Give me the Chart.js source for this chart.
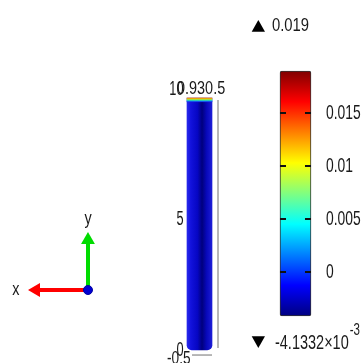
<!DOCTYPE html>
<html><head><meta charset="utf-8">
<script src="https://cdn.jsdelivr.net/npm/chart.js@4"></script>
<style>html,body{margin:0;padding:0;background:#fff;}canvas{display:block;}</style>
</head><body>
<canvas id="c" width="364" height="363"></canvas>
<script>
// ---- data ----
const columnPositions = [0];
const columnSpan = [0, 10];
const columnTopBand = [9.85, 10];
const colorRange = [-4.1332e-3, 0.019];
const colorTicks = [0, 0.005, 0.01, 0.015];
const colorTickLabels = ['0', '0.005', '0.01', '0.015'];
const maxLabel = '0.019';
const minLabelMantissa = '-4.1332×10';
const minLabelExponent = '-3';
const heightTicks = [0, 5, 10];
const heightTickLabels = ['0', '5', '10'];
const widthLabelsTop = '0.930.5';
const widthLabelsBottom = '-0.5';
const boxEdgeRightX = [0.74, 0.74];
const boxEdgeRightY = [9.92, 0.08];
const boxEdgeBottomX = [-0.3, 0.5];
const boxEdgeBottomY = [-0.2, -0.2];
const triadOrigin = [0, 0];
const triadXTip = [-1, 0];
const triadYTip = [0, 1];
const triadLabels = ['x', 'y'];

const jet = [[0,'rgb(0,0,128)'],[0.125,'rgb(0,0,255)'],[0.375,'rgb(0,255,255)'],[0.5,'rgb(128,255,128)'],[0.625,'rgb(255,255,0)'],[0.875,'rgb(255,0,0)'],[1,'rgb(128,0,0)']];

function columnFill(c){
  const ch = c.chart, s = ch.scales.x;
  if (!s || s.left === undefined) return 'rgb(10,10,200)';
  const a = s.getPixelForValue(-0.5), b = s.getPixelForValue(0.5);
  const g = ch.ctx.createLinearGradient(a, 0, b, 0);
  g.addColorStop(0, 'rgb(40,40,235)');
  g.addColorStop(0.15, 'rgb(18,18,220)');
  g.addColorStop(0.42, 'rgb(6,6,195)');
  g.addColorStop(0.6, 'rgb(0,0,125)');
  g.addColorStop(0.78, 'rgb(8,8,185)');
  g.addColorStop(1, 'rgb(28,28,215)');
  return g;
}
function bandFill(c){
  const ch = c.chart, s = ch.scales.y;
  if (!s || s.top === undefined) return 'orange';
  const g = ch.ctx.createLinearGradient(0, s.getPixelForValue(columnTopBand[1]), 0, s.getPixelForValue(columnTopBand[0]));
  g.addColorStop(0, 'rgb(255,110,0)');
  g.addColorStop(0.3, 'rgb(210,230,20)');
  g.addColorStop(0.55, 'rgb(70,220,140)');
  g.addColorStop(0.8, 'rgb(0,170,255)');
  g.addColorStop(1, 'rgb(30,30,225)');
  return g;
}
function jetFill(c){
  const ch = c.chart, s = ch.scales.yc;
  if (!s || s.top === undefined) return 'blue';
  const g = ch.ctx.createLinearGradient(0, s.getPixelForValue(colorRange[0]), 0, s.getPixelForValue(colorRange[1]));
  jet.forEach(([p, col]) => g.addColorStop(p, col));
  return g;
}

function txt(ctx, s, x, y, size, sx, align, baseline){
  ctx.save();
  ctx.font = size + 'px "Liberation Sans", Arial, sans-serif';
  ctx.fillStyle = '#1a1a1a';
  ctx.textAlign = align || 'left';
  ctx.textBaseline = baseline || 'middle';
  ctx.translate(x, y);
  ctx.scale(sx, 1);
  ctx.fillText(s, 0, 0);
  ctx.restore();
}
function tri(ctx, x, y, w, h, up){
  ctx.save();
  ctx.fillStyle = '#000';
  ctx.beginPath();
  if (up){ ctx.moveTo(x, y + h); ctx.lineTo(x + w, y + h); ctx.lineTo(x + w/2, y); }
  else { ctx.moveTo(x, y); ctx.lineTo(x + w, y); ctx.lineTo(x + w/2, y + h); }
  ctx.closePath(); ctx.fill();
  ctx.restore();
}

const labelsPlugin = {
  id: 'labels',
  afterDatasetsDraw(chart){
    const ctx = chart.ctx;
    const yc = chart.scales.yc, yl = chart.scales.yl, x = chart.scales.x;
    const tx = chart.scales.tx, ty = chart.scales.ty;
    const cb = chart.getDatasetMeta(2).data[0];
    const left = cb.x - cb.width/2, right = cb.x + cb.width/2;
    ctx.save();
    ctx.strokeStyle = '#111'; ctx.lineWidth = 2;
    colorTicks.forEach((v, i) => {
      const py = Math.round(yc.getPixelForValue(v));
      ctx.beginPath();
      ctx.moveTo(left, py); ctx.lineTo(left + 6, py);
      ctx.moveTo(right - 6, py); ctx.lineTo(right, py);
      ctx.stroke();
      txt(ctx, colorTickLabels[i], right + 15, py, 21, 0.66);
    });
    ctx.restore();
    const yTop = yc.getPixelForValue(colorRange[1]) - 45.5;
    tri(ctx, left - 28.3, yTop - 5.5, 13.3, 11.7, true);
    txt(ctx, maxLabel, left - 8, yTop, 19, 0.78);
    const yBot = yc.getPixelForValue(colorRange[0]) + 27;
    tri(ctx, left - 28.3, yBot - 6.8, 13.3, 11.7, false);
    ctx.save();
    ctx.font = '21px "Liberation Sans", Arial, sans-serif';
    const mw = ctx.measureText(minLabelMantissa).width * 0.69;
    ctx.restore();
    txt(ctx, minLabelMantissa, left - 5, yBot, 21, 0.69);
    txt(ctx, minLabelExponent, left - 5 + mw + 1, yBot - 12, 16, 0.72);
    const colLeft = x.getPixelForValue(-0.5);
    heightTicks.forEach((v, i) => {
      txt(ctx, heightTickLabels[i], colLeft - 3.5, yl.getPixelForValue(v), 20, 0.64, 'right');
    });
    txt(ctx, widthLabelsTop, colLeft - 10, yl.getPixelForValue(heightTicks[2]), 19, 0.76);
    txt(ctx, widthLabelsBottom, colLeft - 20, yl.getPixelForValue(heightTicks[0]) + 8.5, 19, 0.72);
    txt(ctx, triadLabels[0], tx.getPixelForValue(triadXTip[0] - 0.385), ty.getPixelForValue(-0.1), 18, 0.8, 'center', 'alphabetic');
    txt(ctx, triadLabels[1], tx.getPixelForValue(0), ty.getPixelForValue(1.33), 18, 0.8, 'center', 'alphabetic');
  }
};

const pts = (xs, ys) => xs.map((v, i) => ({x: v, y: ys[i]}));
const hidden = (extra) => Object.assign({type: 'linear', display: false, offset: false, grid: {display: false}}, extra);

new Chart(document.getElementById('c'), {
  type: 'bar',
  data: {
    datasets: [
      { type: 'bar', label: 'column', xAxisID: 'x', yAxisID: 'y', order: 5, grouped: false,
        data: columnPositions.map(p => ({x: p, y: columnSpan})),
        barThickness: 25, backgroundColor: columnFill, borderWidth: 0, borderSkipped: false,
        borderRadius: {topLeft: 0, topRight: 0, bottomLeft: 5, bottomRight: 5} },
      { type: 'bar', label: 'top', xAxisID: 'x', yAxisID: 'y', order: 4, grouped: false,
        data: columnPositions.map(p => ({x: p, y: columnTopBand})),
        barThickness: 25, backgroundColor: bandFill, borderWidth: 0, borderSkipped: false },
      { type: 'bar', label: 'colorbar', xAxisID: 'xc', yAxisID: 'yc', order: 4, grouped: false,
        data: [{x: 0, y: colorRange}],
        barThickness: 31, backgroundColor: jetFill, borderColor: '#333', borderWidth: 1,
        borderSkipped: false, borderRadius: 2 },
      { type: 'line', label: 'edgeR', xAxisID: 'x', yAxisID: 'y', order: 6,
        data: pts(boxEdgeRightX, boxEdgeRightY), borderColor: '#a0a0a0', borderWidth: 1.5, pointRadius: 0 },
      { type: 'line', label: 'edgeB', xAxisID: 'x', yAxisID: 'y', order: 6,
        data: pts(boxEdgeBottomX, boxEdgeBottomY), borderColor: '#a0a0a0', borderWidth: 1.5, pointRadius: 0 },
      { type: 'line', label: 'tx', xAxisID: 'tx', yAxisID: 'ty', order: 2,
        data: [{x: triadOrigin[0], y: triadOrigin[1]}, {x: triadXTip[0], y: triadXTip[1]}],
        borderColor: 'rgb(255,0,0)', backgroundColor: 'rgb(255,0,0)', borderWidth: 4,
        pointRadius: [0, 8], pointStyle: 'triangle', pointRotation: -90, pointBorderWidth: 0 },
      { type: 'line', label: 'ty', xAxisID: 'tx', yAxisID: 'ty', order: 2,
        data: [{x: triadOrigin[0], y: triadOrigin[1]}, {x: triadYTip[0], y: triadYTip[1]}],
        borderColor: 'rgb(0,220,0)', backgroundColor: 'rgb(0,220,0)', borderWidth: 4,
        pointRadius: [0, 8], pointStyle: 'triangle', pointRotation: 0, pointBorderWidth: 0 },
      { type: 'scatter', label: 'origin', xAxisID: 'tx', yAxisID: 'ty', order: 0,
        data: [{x: triadOrigin[0], y: triadOrigin[1]}],
        backgroundColor: 'rgb(0,0,210)', borderColor: 'rgb(0,0,160)', borderWidth: 1, pointRadius: 4.5 }
    ]
  },
  options: {
    responsive: false, devicePixelRatio: 1, animation: false, events: [],
    layout: {padding: 0, autoPadding: false},
    plugins: {legend: {display: false}, tooltip: {enabled: false}, title: {display: false}},
    scales: {
      x: hidden({min: -7.98, max: 6.58}),
      y: hidden({min: -0.516, max: 13.889}),
      xc: hidden({min: -9.532, max: 2.210}),
      yc: hidden({min: -0.0085710, max: 0.025704}),
      yl: hidden({min: -0.498, max: 13.410}),
      tx: hidden({min: -1.692, max: 5.308}),
      ty: hidden({min: -1.46, max: 5.8})
    }
  },
  plugins: [labelsPlugin]
});
</script>
</body></html>
